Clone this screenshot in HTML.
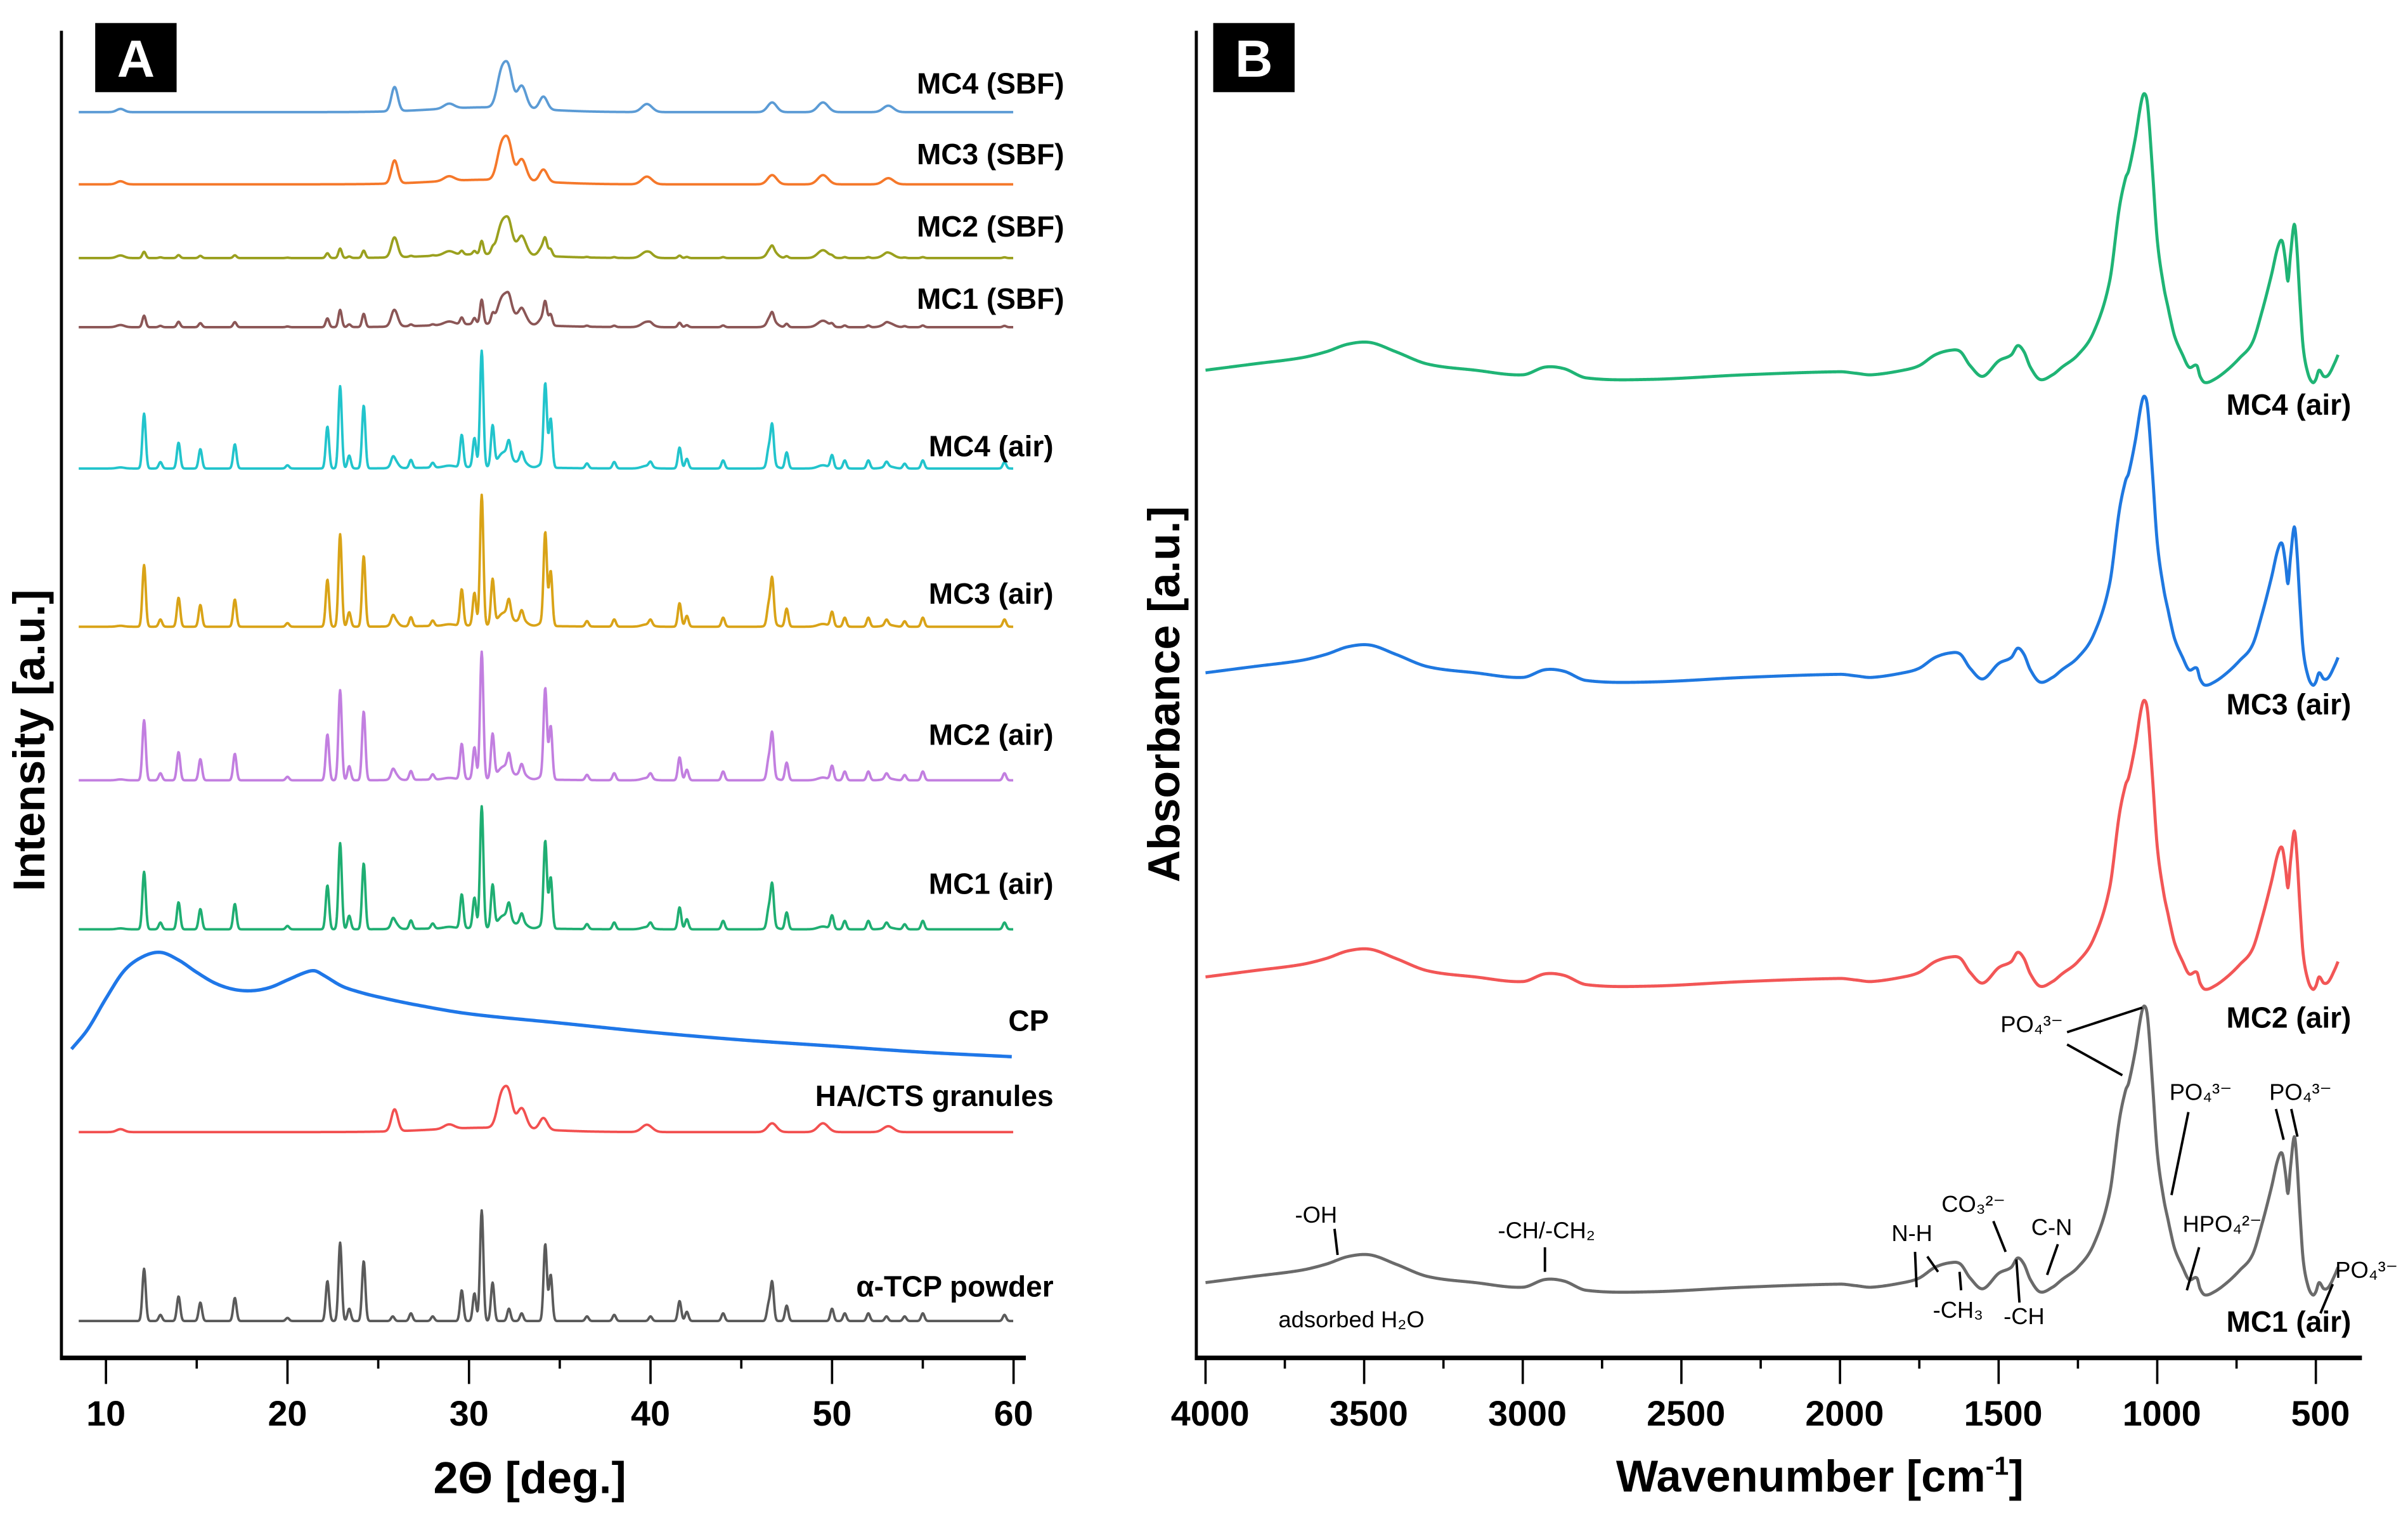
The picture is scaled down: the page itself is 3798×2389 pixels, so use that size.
<!DOCTYPE html>
<html><head><meta charset="utf-8"><style>
html,body{margin:0;padding:0;background:#fff;}
svg{display:block;}
text{font-family:"Liberation Sans",Arial,sans-serif;}
</style></head><body>
<svg id="fig" width="3798" height="2389" viewBox="0 0 1568 986.3" preserveAspectRatio="none" xmlns="http://www.w3.org/2000/svg">
<g id="panelA"></g>
<g id="panelB"></g>
</svg>
<script>
// ---------- Panel A data (XRD) ----------
const xrdTicks = [10,20,30,40,50,60];
const xrdNames = ["MC4 (SBF)","MC3 (SBF)","MC2 (SBF)","MC1 (SBF)","MC4 (air)","MC3 (air)","MC2 (air)","MC1 (air)","HA/CTS granules","α-TCP powder"];
const xrdColors = ["#5b9bd5","#f5782a","#9aa01e","#8b5656","#22c4cc","#d9a317","#c27fe0","#1fae72","#f25050","#5a5a5a"];
const xrdBaselines = [73,120,168,213,305,408,508,605,737,860];
const xrdLabelY = [55,101,148,195,291,387,479,576,714,838];
const tcpPos = [12.1,13.0,14.0,15.2,17.1,20.0,22.2,22.9,23.4,24.2,25.8,26.8,28.0,29.6,30.3,30.7,31.3,32.2,32.9,34.2,34.5,36.5,38.0,40.0,41.6,42.0,44.0,46.5,46.7,47.5,50.0,50.7,52.0,53.0,54.0,55.0,59.5];
const tcpH =   [34,4,16,12,15,2,26,51,8,39,3,5,3,20,18,72,25,8,5,50,30,3,4,3,13,6,5,10,25,10,8,5,5,3,3,5,4];
const haPos = [10.8,25.9,28.9,31.8,32.2,32.9,34.1,39.8,46.7,49.5,53.1];
const haH =   [2,15,3,22,20,14,8,5,6,6,4];
const haW =   [0.3,0.25,0.4,0.35,0.3,0.35,0.3,0.4,0.35,0.4,0.4];
const tcpScale = [0,0,0.12,0.22,1.05,1.18,1.15,1.1,0,1];
const haScale  = [1.05,1.0,0.85,0.7,0.35,0.3,0.3,0.3,0.95,0];
const cpX = [8.1,9,10,11,12,13,14,15,16,17,18,19,20,21,21.5,22,23,24,25,27,30,35,40,45,50,55,60];
const cpH = [5,18,38,56,65,68,63,55,48,44,43,45,50,55,56,53,46,42,39,34,28,22,16,11,7,3,0];
const cpBase = 688;

// ---------- Panel B data (FTIR) ----------
const irTicks = [4000,3500,3000,2500,2000,1500,1000,500];
const irNames = ["MC4 (air)","MC3 (air)","MC2 (air)","MC1 (air)"];
const irColors = ["#1fb475","#1f78e0","#f25656","#6a6a6a"];
const irBaselines = [241,438,636,835];
const irLabelY = [263,458,662,860];
const irW = [4000,3850,3700,3620,3550,3480,3400,3300,3150,3000,2930,2870,2800,2600,2300,2000,1950,1900,1800,1750,1700,1650,1620,1590,1550,1500,1460,1440,1420,1400,1370,1330,1300,1250,1200,1150,1120,1100,1090,1070,1050,1040,1030,1015,1000,980,965,960,945,920,900,875,865,850,820,780,740,700,670,640,620,606,595,588,580,568,560,550,540,525,510,500,490,475,460,440,430];
const irA = [0,4,8,12,17,18,12,4,0,-3,2,1,-5,-6,-3,-1,-2,-3,0,3,10,13,12,3,-4,6,10,16,12,2,-6,-3,2,10,25,58,105,125,130,150,175,180,172,130,85,55,40,35,22,10,2,3,-4,-8,-6,0,8,18,38,62,80,84,70,58,75,95,80,45,15,-2,-8,-6,0,-4,-3,5,10];

const NS="http://www.w3.org/2000/svg";
function mk(tag, attrs, parent){const e=document.createElementNS(NS,tag);for(const k in attrs)e.setAttribute(k,attrs[k]);parent.appendChild(e);return e;}
const A=document.getElementById('panelA'), B=document.getElementById('panelB');

function xA(t){return 69+(t-10)*(660-69)/50;}
function xB(w){return 785+(4000-w)*(1508-785)/3500;}

function xrdValue(i,t){
  let v=0;
  for(let k=0;k<tcpPos.length;k++){const d=(t-tcpPos[k])/0.13;v+=tcpScale[i]*tcpH[k]*Math.exp(-d*d);}
  for(let k=0;k<haPos.length;k++){const d=(t-haPos[k])/haW[k];v+=haScale[i]*haH[k]*Math.exp(-d*d);}
  const d=(t-31)/4; v+=haScale[i]*3*Math.exp(-d*d);
  return v;
}
for(let i=0;i<xrdNames.length;i++){
  let p="";
  for(let t=8.5;t<=60.0001;t+=0.03){const y=xrdBaselines[i]-xrdValue(i,t);p+=(p?"L":"M")+xA(t).toFixed(2)+","+y.toFixed(2);}
  const path=mk('path',{d:p,fill:'none',stroke:xrdColors[i],'stroke-width':1.6,'stroke-linejoin':'round'},A);
  
  
}
// smooth interpolation helper (Catmull-Rom on arrays)
function smoothAt(xs,ys,x){
  const n=xs.length;
  for(let k=0;k<n-1;k++){
    const a=xs[k],b=xs[k+1];
    if((x-a)*(x-b)<=0){
      const f=(x-a)/(b-a);
      const y0=ys[Math.max(k-1,0)],y1=ys[k],y2=ys[k+1],y3=ys[Math.min(k+2,n-1)];
      const x0=xs[Math.max(k-1,0)],x3=xs[Math.min(k+2,n-1)];
      const m1=(y2-y0)/((b-x0)||1)*(b-a), m2=(y3-y1)/((x3-a)||1)*(b-a);
      const f2=f*f,f3=f2*f;
      return (2*f3-3*f2+1)*y1+(f3-2*f2+f)*m1+(-2*f3+3*f2)*y2+(f3-f2)*m2;
    }
  }
  return ys[n-1];
}
{
  let p="";
  for(let t=cpX[0];t<=60;t+=0.1){p+=(p?"L":"M")+xA(t).toFixed(2)+","+(cpBase-smoothAt(cpX,cpH,t)).toFixed(2);}
  const path=mk('path',{d:p,fill:'none',stroke:'#1f77e8','stroke-width':2.2,'stroke-linejoin':'round'},A);
  
  
  const t=mk('text',{x:683,y:671,'font-size':19,'font-weight':'bold','text-anchor':'end'},A);t.textContent="CP";
  
  
}
for(let i=0;i<xrdNames.length;i++){
  const t=mk('text',{x:i<4?693:686,y:xrdLabelY[i]+6,'font-size':19,'font-weight':'bold','text-anchor':'end'},A);
  t.textContent=xrdNames[i];
  
  
}
mk('line',{x1:40,y1:20,x2:40,y2:885,stroke:'#000','stroke-width':2},A);
mk('line',{x1:39,y1:884,x2:668,y2:884,stroke:'#000','stroke-width':3},A);
for(let t=10;t<=60;t+=5){
  const major=(t%10===0);
  mk('line',{x1:xA(t),y1:884,x2:xA(t),y2:major?901:891,stroke:'#000','stroke-width':1.5},A);
}
for(const t of xrdTicks){
  const e=mk('text',{x:xA(t),y:928,'font-size':23,'font-weight':'bold','text-anchor':'middle'},A);e.textContent=t;
  
  
}
{const e=mk('text',{x:345,y:972,'font-size':29,'font-weight':'bold','text-anchor':'middle'},A);e.textContent="2Θ [deg.]";


const y=mk('text',{x:0,y:0,'font-size':29,'font-weight':'bold','text-anchor':'middle',transform:'translate(29,482) rotate(-90)'},A);y.textContent="Intensity [a.u.]";


mk('rect',{x:62,y:15,width:53,height:45,fill:'#000'},A);
const l=mk('text',{x:88.5,y:50,'font-size':34,'font-weight':'bold','text-anchor':'middle',fill:'#fff'},A);l.textContent="A";

}

// ---------- Panel B ----------
function irValue(w){ return smoothAt(irW,irA,w); }
for(let i=0;i<irNames.length;i++){
  let p="";
  for(let w=4000;w>=430;w-=2){p+=(p?"L":"M")+xB(w).toFixed(2)+","+(irBaselines[i]-irValue(w)).toFixed(2);}
  const path=mk('path',{d:p,fill:'none',stroke:irColors[i],'stroke-width':2,'stroke-linejoin':'round'},B);
  
  
  const t=mk('text',{x:1531,y:irLabelY[i]+7,'font-size':19,'font-weight':'bold','text-anchor':'end'},B);
  t.textContent=irNames[i];
  
  
}
mk('line',{x1:779,y1:20,x2:779,y2:885,stroke:'#000','stroke-width':2},B);
mk('line',{x1:778,y1:884,x2:1538,y2:884,stroke:'#000','stroke-width':3},B);
for(let w=4000;w>=500;w-=250){
  const major=(w%500===0);
  mk('line',{x1:xB(w),y1:884,x2:xB(w),y2:major?901:891,stroke:'#000','stroke-width':1.5},B);
}
for(const w of irTicks){
  const e=mk('text',{x:xB(w)+3,y:928,'font-size':23,'font-weight':'bold','text-anchor':'middle'},B);e.textContent=w;
  
  
}
{const e=mk('text',{x:1185,y:971,'font-size':29,'font-weight':'bold','text-anchor':'middle'},B);
e.innerHTML='Wavenumber [cm<tspan dy="-11" font-size="17">-1</tspan><tspan dy="11">]</tspan>';


const y=mk('text',{x:0,y:0,'font-size':29,'font-weight':'bold','text-anchor':'middle',transform:'translate(768,452) rotate(-90)'},B);y.textContent="Absorbance [a.u.]";


mk('rect',{x:790,y:15,width:53,height:45,fill:'#000'},B);
const l=mk('text',{x:816.5,y:50,'font-size':34,'font-weight':'bold','text-anchor':'middle',fill:'#fff'},B);l.textContent="B";

}

const ann=[
 ['-OH',857,796],['-CH/-CH₂',1007,806],['adsorbed H₂O',880,864],
 ['N-H',1245,808],['CO₃²⁻',1285,789],['C-N',1336,804],
 ['-CH₃',1275,858],['-CH',1318,862],
 ['PO₄³⁻',1323,672],['PO₄³⁻',1433,716],['PO₄³⁻',1498,716],
 ['HPO₄²⁻',1447,802],['PO₄³⁻',1541,832]
];
for(const a of ann){
  const t=mk('text',{x:a[1],y:a[2],'font-size':15,'text-anchor':'middle'},B);t.textContent=a[0];
  
  
}
const lines=[[869,800,871,817],[1006,812,1006,828],[1346,672,1395,656],[1346,680,1382,700],[1425,724,1414,778],
 [1482,722,1487,742],[1492,722,1496,740],[1432,812,1424,840],[1519,836,1511,855],[1340,810,1333,830],
 [1298,795,1306,815],[1247,815,1248,838],[1255,818,1262,828],[1277,840,1276,828],[1315,848,1313,820]];
for(const L of lines){
  const e=mk('line',{x1:L[0],y1:L[1],x2:L[2],y2:L[3],stroke:'#000','stroke-width':1.6},B);
  
  
}
</script>
</body></html>
